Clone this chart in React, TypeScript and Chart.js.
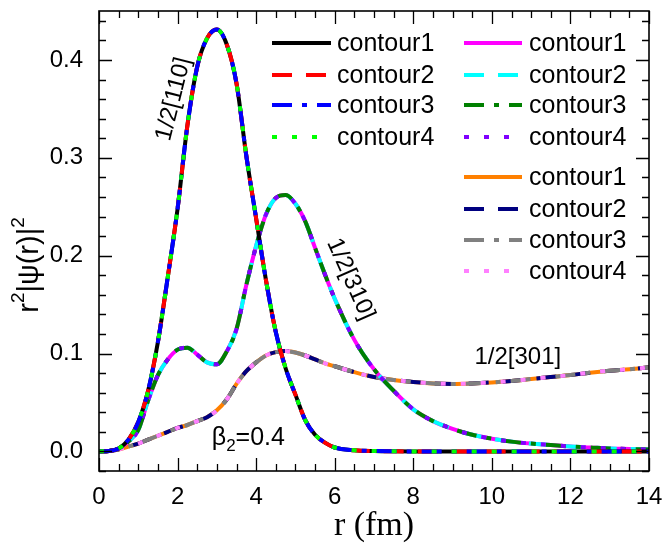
import React, { useEffect, useRef } from "react";
import { Chart, registerables } from "chart.js";
Chart.register(...registerables);

const FONT = '"Liberation Sans", Arial, sans-serif';
const SERIF = '"Liberation Serif", "Times New Roman", serif';

// radial grid (fm)
const rGrid = [0, 0.25, 0.5, 0.75, 1, 1.25, 1.5, 1.75, 2, 2.25, 2.5, 2.75, 3, 3.25, 3.5, 3.75, 4, 4.25, 4.5, 4.75, 5, 5.25, 5.5, 5.75, 6, 6.5, 7, 7.5, 8, 8.5, 9, 9.5, 10, 10.5, 11, 11.5, 12, 12.5, 13, 13.5, 14];

// r^2 |psi(r)|^2 for the three states
const psi110 = [0, 0.0005, 0.003, 0.012, 0.03, 0.062, 0.112, 0.178, 0.248, 0.333, 0.393, 0.422, 0.431, 0.416, 0.376, 0.302, 0.238, 0.175, 0.122, 0.085, 0.058, 0.032, 0.017, 0.009, 0.004, 0.0012, 0.0004, 0.0001, 0, 0, 0, 0, 0, 0, 0, 0, 0, 0, 0, 0, 0];
const psi310 = [0, 0.0005, 0.003, 0.01, 0.022, 0.052, 0.078, 0.094, 0.104, 0.106, 0.099, 0.091, 0.089, 0.102, 0.125, 0.17, 0.21, 0.242, 0.259, 0.262, 0.253, 0.235, 0.208, 0.181, 0.156, 0.114, 0.084, 0.062, 0.043, 0.031, 0.023, 0.017, 0.013, 0.01, 0.008, 0.0065, 0.005, 0.004, 0.003, 0.0025, 0.002];
const psi301 = [0, 0.0005, 0.002, 0.005, 0.008, 0.012, 0.016, 0.02, 0.024, 0.027, 0.031, 0.035, 0.042, 0.053, 0.069, 0.082, 0.091, 0.098, 0.1015, 0.1025, 0.101, 0.098, 0.094, 0.09, 0.087, 0.081, 0.076, 0.073, 0.071, 0.0695, 0.069, 0.0695, 0.0705, 0.072, 0.074, 0.076, 0.078, 0.0805, 0.0825, 0.084, 0.086];

const contourLabels = ["contour1", "contour2", "contour3", "contour4"];
const colors110 = ["#000000", "#ff0000", "#0000ff", "#00ff00"];
const colors310 = ["#ff00ff", "#00ffff", "#008000", "#8000ff"];
const colors301 = ["#ff8000", "#000080", "#808080", "#ff80ff"];
const dashes = [[], [20, 14], [20, 10, 5, 10], [5, 15]];

const xTicks = [0, 2, 4, 6, 8, 10, 12, 14];
const yTicks = [0, 0.1, 0.2, 0.3, 0.4];
const xMinorStep = 0.5;
const yMinorStep = 0.02;

const groups = [
  { values: psi110, colors: colors110, rank: 0 },
  { values: psi310, colors: colors310, rank: 1 },
  { values: psi301, colors: colors301, rank: 2 },
];

const legendLayout = [
  { x1: 272, x2: 331, tx: 337, ys: [43, 75, 105, 137] },
  { x1: 464, x2: 522, tx: 529, ys: [43, 75, 105, 137] },
  { x1: 464, x2: 522, tx: 529, ys: [177, 209, 240, 271] },
];

const decorPlugin = {
  id: "decor",
  afterDraw(chart: any) {
    const { ctx, chartArea: a, scales } = chart;
    const xs = scales.x, ys = scales.y;
    ctx.save();
    // frame
    ctx.strokeStyle = "#000";
    ctx.lineWidth = 1.6;
    ctx.setLineDash([]);
    ctx.strokeRect(a.left, a.top, a.right - a.left, a.bottom - a.top);
    // ticks
    ctx.lineWidth = 1.3;
    ctx.beginPath();
    for (let v = 0; v <= 14 + 1e-9; v += xMinorStep) {
      const px = Math.round(xs.getPixelForValue(v)) + 0.5;
      const major = Math.abs(v / 2 - Math.round(v / 2)) < 1e-6;
      const len = major ? 13 : 7;
      ctx.moveTo(px, a.bottom); ctx.lineTo(px, a.bottom - len);
      ctx.moveTo(px, a.top); ctx.lineTo(px, a.top + len);
    }
    for (let v = -0.02; v <= 0.45 + 1e-9; v += yMinorStep) {
      const py = Math.round(ys.getPixelForValue(v)) + 0.5;
      const major = Math.abs(v * 10 - Math.round(v * 10)) < 1e-6;
      const len = major ? 13 : 7;
      ctx.moveTo(a.left, py); ctx.lineTo(a.left + len, py);
      ctx.moveTo(a.right, py); ctx.lineTo(a.right - len, py);
    }
    ctx.stroke();

    // legend
    ctx.font = `25px ${FONT}`;
    ctx.textBaseline = "middle";
    ctx.textAlign = "left";
    groups.forEach((g, gi) => {
      const L = legendLayout[gi];
      g.colors.forEach((c, i) => {
        const y = L.ys[i];
        ctx.strokeStyle = c;
        ctx.lineWidth = 4;
        ctx.setLineDash(dashes[i]);
        ctx.beginPath();
        ctx.moveTo(L.x1, y); ctx.lineTo(L.x2, y);
        ctx.stroke();
        ctx.setLineDash([]);
        ctx.fillStyle = "#000";
        ctx.fillText(contourLabels[i], L.tx, y + 1);
      });
    });

    // annotations
    ctx.fillStyle = "#000";
    ctx.font = `24px ${FONT}`;
    ctx.textAlign = "center";
    ctx.textBaseline = "middle";
    const rot = (t: string, r: number, v: number, deg: number) => {
      ctx.save();
      ctx.translate(xs.getPixelForValue(r), ys.getPixelForValue(v));
      ctx.rotate((deg * Math.PI) / 180);
      ctx.fillText(t, 0, 0);
      ctx.restore();
    };
    rot("1/2[110]", 1.9, 0.36, -76);
    rot("1/2[310]", 6.4, 0.176, 66);
    rot("1/2[301]", 10.66, 0.096, 0);
    // beta_2 = 0.4
    ctx.textAlign = "left";
    ctx.font = `25px ${FONT}`;
    let bx = xs.getPixelForValue(2.87);
    const by = ys.getPixelForValue(0.0136);
    ctx.fillText("β", bx, by);
    bx += ctx.measureText("β").width;
    ctx.font = `17px ${FONT}`;
    ctx.fillText("2", bx, by + 8);
    bx += ctx.measureText("2").width;
    ctx.font = `25px ${FONT}`;
    ctx.fillText("=0.4", bx, by);

    // axis titles
    ctx.font = `34px ${SERIF}`;
    ctx.textAlign = "center";
    ctx.textBaseline = "middle";
    ctx.fillText("r (fm)", (a.left + a.right) / 2, 526);

    ctx.save();
    ctx.translate(30, 265);
    ctx.rotate(-Math.PI / 2);
    const parts = [
      { t: "r", sup: false },
      { t: "2", sup: true },
      { t: "|ψ(r)|", sup: false },
      { t: "2", sup: true },
    ];
    const mainF = `29px ${FONT}`, supF = `19px ${FONT}`;
    let total = 0;
    parts.forEach((p) => { ctx.font = p.sup ? supF : mainF; total += ctx.measureText(p.t).width; });
    let cx = -total / 2;
    ctx.textAlign = "left";
    parts.forEach((p) => {
      ctx.font = p.sup ? supF : mainF;
      ctx.fillText(p.t, cx, p.sup ? -11 : 0);
      cx += ctx.measureText(p.t).width;
    });
    ctx.restore();

    ctx.restore();
  },
};

export default function App() {
  const ref = useRef<HTMLCanvasElement | null>(null);
  useEffect(() => {
    if (!ref.current) return;
    const datasets: any[] = [];
    groups.forEach((g) => {
      g.colors.forEach((c, i) => {
        datasets.push({
          label: contourLabels[i],
          data: rGrid.map((r, k) => ({ x: r, y: g.values[k] })),
          borderColor: c,
          backgroundColor: c,
          borderWidth: 4,
          borderDash: dashes[i],
          pointRadius: 0,
          fill: false,
          cubicInterpolationMode: "monotone",
          order: g.rank * 10 + (4 - i),
        });
      });
    });
    const chart = new Chart(ref.current, {
      type: "line",
      data: { datasets },
      options: {
        animation: false,
        responsive: false,
        layout: { padding: { top: 11, right: 15, left: 0, bottom: 0 } },
        plugins: { legend: { display: false }, tooltip: { enabled: false } },
        scales: {
          x: {
            type: "linear",
            min: 0,
            max: 14,
            afterBuildTicks: (s: any) => { s.ticks = xTicks.map((v) => ({ value: v })); },
            afterFit: (s: any) => { s.height = 78; s.paddingLeft = 0; s.paddingRight = 0; },
            grid: { display: false, drawTicks: false },
            border: { display: false },
            ticks: { color: "#000", font: { size: 24, family: FONT }, padding: 12, maxRotation: 0, autoSkip: false, callback: (v: any) => String(v) },
          },
          y: {
            type: "linear",
            min: -0.02,
            max: 0.45,
            afterBuildTicks: (s: any) => { s.ticks = yTicks.map((v) => ({ value: v })); },
            afterFit: (s: any) => { s.width = 99; s.paddingTop = 0; s.paddingBottom = 0; },
            grid: { display: false, drawTicks: false },
            border: { display: false },
            ticks: { color: "#000", font: { size: 24, family: FONT }, padding: 16, autoSkip: false, callback: (v: any) => Number(v).toFixed(1) },
          },
        },
      },
      plugins: [decorPlugin],
    });
    return () => chart.destroy();
  }, []);
  return (
    <div style={{ position: "absolute", left: 0, top: 0, width: 664, height: 549, background: "#fff" }}>
      <canvas ref={ref} width={664} height={549} style={{ display: "block" }} />
    </div>
  );
}
